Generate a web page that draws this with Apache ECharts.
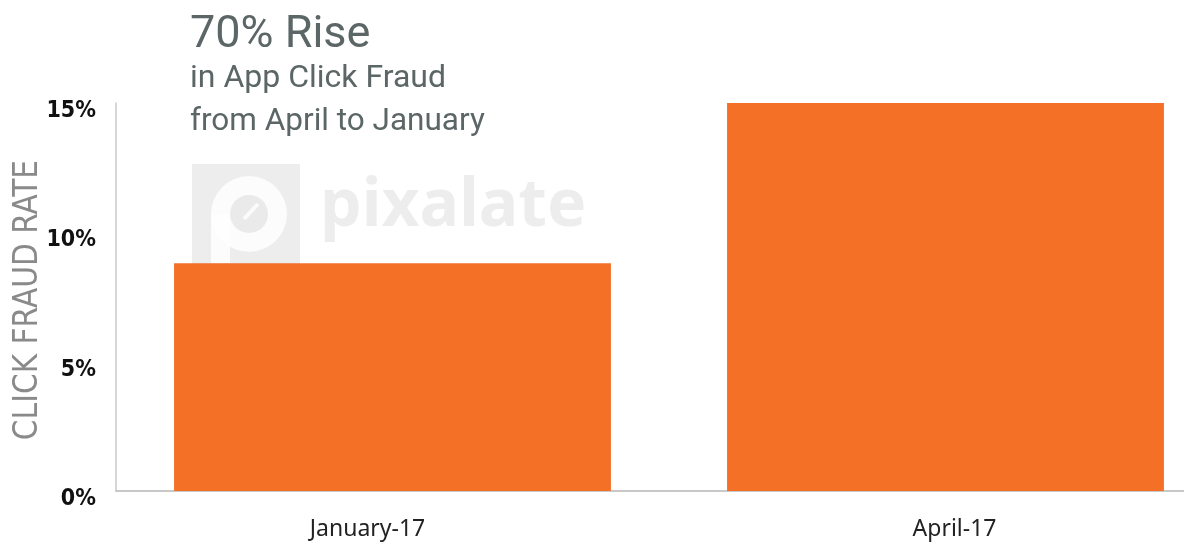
<!DOCTYPE html>
<html><head><meta charset="utf-8">
<script src="https://cdn.jsdelivr.net/npm/echarts@6/dist/echarts.min.js"></script>
<style>html,body{margin:0;padding:0;background:#fff}#c{width:1184px;height:542px}</style>
</head><body><div id="c"></div>
<script>
const categories = ['January-17', 'April-17'];
const fraudRate = [8.8, 15];
const yTicks = [0, 5, 10, 15];
const titleLines = ['70% Rise', 'in App Click Fraud', 'from April to January'];
const yAxisTitle = 'CLICK FRAUD RATE';

const chart = echarts.init(document.getElementById('c'));
chart.setOption({
  animation: false,
  grid: { left: 116, top: 103, width: 1106, bottom: 51, containLabel: false, outerBoundsMode: 'none' },
  xAxis: {
    type: 'category', data: categories,
    axisLine: { lineStyle: { color: '#c8c8c8', width: 2 } },
    axisTick: { show: false },
    axisLabel: {
      color: '#222', fontFamily: 'Noto Sans', fontSize: 23, margin: 27,
      formatter: (v, i) => (i === 0 ? '{a|' : '{b|') + v + '}',
      rich: {
        a: { fontFamily: 'Noto Sans', fontSize: 23, color: '#222', padding: [0, 50, 0, 0] },
        b: { fontFamily: 'Noto Sans', fontSize: 23, color: '#222', padding: [0, 0, 0, 18] }
      }
    }
  },
  yAxis: {
    type: 'value', min: 0, max: 15, interval: 5,
    axisLine: { show: true, lineStyle: { color: '#c8c8c8', width: 1.5 } },
    axisTick: { show: false },
    splitLine: { show: false },
    axisLabel: {
      margin: 20,
      formatter: v => '{v|' + v + '%}',
      rich: { v: { fontFamily: 'DejaVu Sans Condensed', fontWeight: 'bold', fontSize: 23, color: '#111', padding: [16, 0, 0, 0] } }
    }
  },
  series: [{
    type: 'bar', data: fraudRate, barWidth: '79%',
    itemStyle: { color: '#f37026' }, z: 2
  }],
  graphic: [
    { type: 'text', x: 28, y: 300, rotation: Math.PI / 2,
      style: { text: yAxisTitle, fill: '#8a8a8a', font: '33px "DejaVu Sans Condensed"', align: 'center', verticalAlign: 'middle' } },
    { type: 'text', left: 190, top: 13, style: { text: titleLines[0], fill: '#5c6666', font: '45px Roboto' } },
    { type: 'text', left: 190, top: 63, style: { text: titleLines[1], fill: '#5c6666', font: '32px Roboto' } },
    { type: 'text', left: 190, top: 106, style: { text: titleLines[2], fill: '#5c6666', font: '31.5px Roboto' } },
    { type: 'group', left: 192, top: 164, z: 10, children: [
      { type: 'rect', shape: { x: 0, y: 0, width: 108, height: 113, r: [0, 0, 10, 10] }, style: { fill: 'rgba(90,90,90,0.11)' } },
      { type: 'circle', shape: { cx: 57, cy: 50, r: 38 }, style: { fill: 'rgba(255,255,255,0.8)' } },
      { type: 'rect', shape: { x: 19, y: 50, width: 19, height: 49 }, style: { fill: 'rgba(255,255,255,0.8)' } },
      { type: 'circle', shape: { cx: 57, cy: 50, r: 19 }, style: { fill: 'rgba(90,90,90,0.11)' } },
      { type: 'line', shape: { x1: 52, y1: 55, x2: 66, y2: 40 }, style: { stroke: 'rgba(255,255,255,0.8)', lineWidth: 4 } },
      { type: 'text', x: 128, y: 10, style: { text: 'pixalate', fill: 'rgba(90,90,90,0.11)', font: 'bold 66px "Noto Sans"' } }
    ]}
  ]
});
</script></body></html>
